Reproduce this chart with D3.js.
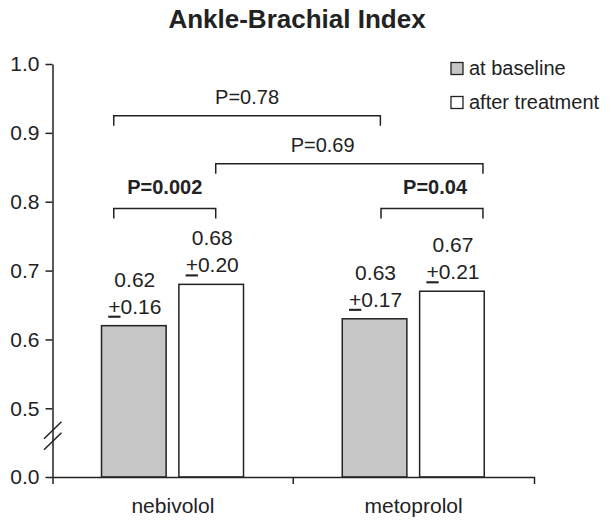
<!DOCTYPE html>
<html>
<head>
<meta charset="utf-8">
<script src="https://cdn.jsdelivr.net/npm/d3@7"></script>
<style>
  body { margin: 0; background: #fff; }
  text { font-family: "Liberation Sans", Arial, sans-serif; fill: #222; }
</style>
</head>
<body>
<div id="chart"></div>
<script>
var categories = ["nebivolol", "metoprolol"]
var series = ["at baseline", "after treatment"]
var baselineMean = [0.62, 0.63]
var baselineSD = [0.16, 0.17]
var afterMean = [0.68, 0.67]
var afterSD = [0.20, 0.21]
var yTicks = [0.0, 0.5, 0.6, 0.7, 0.8, 0.9, 1.0]

// comparisons: [category, series, position across bar] -> [...], level on y
var pLabels = ["P=0.78", "P=0.69", "P=0.002", "P=0.04"]
var pBold = [false, false, true, true]
var pFrom = [["nebivolol", "at baseline", 0.19], ["nebivolol", "after treatment", 0.57],
             ["nebivolol", "at baseline", 0.19], ["metoprolol", "at baseline", 0.6]]
var pTo = [["metoprolol", "at baseline", 0.59], ["metoprolol", "after treatment", 0.98],
           ["nebivolol", "after treatment", 0.57], ["metoprolol", "after treatment", 0.98]]
var pLevel = [0.925, 0.855, 0.79, 0.79]
var pTextAt = [0.5, 0.4, 0.5, 0.53]

var width = 611,
    height = 521,
    ink = "#222"

var svg = d3.select("#chart")
  .append("svg")
    .attr("width", width)
    .attr("height", height)

// broken axis: 0 .. 0.5 squeezed into one step
var y = d3.scaleLinear()
  .domain([0, 0.5, 1.0])
  .range([477, 408.3, 64])

var x = d3.scaleBand()
  .domain(categories)
  .range([52.5, 534])
  .padding(0)

var xs = d3.scaleBand()
  .domain(series)
  .range([49, 191])
  .paddingInner(0.165)

var color = d3.scaleOrdinal()
  .domain(series)
  .range(["#c6c6c6", "#ffffff"])

var rows = []
categories.forEach(function(c, i) {
  rows.push({cat: c, ser: series[0], value: baselineMean[i], sd: baselineSD[i]})
  rows.push({cat: c, ser: series[1], value: afterMean[i], sd: afterSD[i]})
})

svg.append("text")
  .attr("x", 297)
  .attr("y", 28)
  .attr("text-anchor", "middle")
  .style("font-size", "26px")
  .style("font-weight", "bold")
  .text("Ankle-Brachial Index")

// bars
svg.selectAll("bars")
  .data(rows)
  .enter()
  .append("rect")
    .attr("x", function(d) { return x(d.cat) + xs(d.ser) })
    .attr("y", function(d) { return y(d.value) })
    .attr("width", xs.bandwidth())
    .attr("height", function(d) { return y(0) - y(d.value) })
    .attr("fill", function(d) { return color(d.ser) })
    .attr("stroke", ink)
    .attr("stroke-width", 1.5)

// value labels
var lab = svg.selectAll("vals")
  .data(rows)
  .enter()
  .append("g")
    .attr("transform", function(d) {
      return "translate(" + (x(d.cat) + xs(d.ser) + xs.bandwidth() / 2 + 1) + "," + y(d.value) + ")"
    })
    .style("font-size", "21px")
    .attr("text-anchor", "middle")

lab.append("text")
  .attr("y", -39)
  .text(function(d) { return d3.format(".2f")(d.value) })

var sdText = lab.append("text")
  .attr("y", -12)
sdText.append("tspan")
  .style("text-decoration", "underline")
  .text("+")
sdText.append("tspan")
  .text(function(d) { return d3.format(".2f")(d.sd) })

// y axis
var yAxis = svg.append("g")
  .attr("transform", "translate(52.5,0)")
  .call(d3.axisLeft(y)
    .tickValues(yTicks)
    .tickFormat(d3.format(".1f"))
    .tickSize(7)
    .tickSizeOuter(0)
    .tickPadding(6))
yAxis.selectAll("text")
  .style("font-size", "21px")
  .attr("fill", ink)
yAxis.selectAll("line, path")
  .attr("stroke", ink)
  .attr("stroke-width", 1.5)

// x axis, ticks between groups
var xAxis = svg.append("g")
  .attr("transform", "translate(0," + y(0) + ")")
  .call(d3.axisBottom(x)
    .tickSize(0)
    .tickSizeOuter(7)
    .tickPadding(21))
xAxis.selectAll("text")
  .style("font-size", "21px")
  .attr("fill", ink)
xAxis.select(".domain")
  .attr("stroke", ink)
  .attr("stroke-width", 1.5)
xAxis.append("line")
  .attr("x1", x(categories[1]))
  .attr("x2", x(categories[1]))
  .attr("y1", 0)
  .attr("y2", 7)
  .attr("stroke", ink)
  .attr("stroke-width", 1.5)

// axis break marks
var yb = y(0.3)
svg.selectAll("breaks")
  .data([-5.5, 5.5])
  .enter()
  .append("line")
    .attr("x1", 44)
    .attr("x2", 61.5)
    .attr("y1", function(d) { return yb + d + 8.5 })
    .attr("y2", function(d) { return yb + d - 8.5 })
    .attr("stroke", ink)
    .attr("stroke-width", 1.5)

// comparison brackets
function px(p) { return x(p[0]) + xs(p[1]) + p[2] * xs.bandwidth() }

pLabels.forEach(function(t, i) {
  var x1 = px(pFrom[i]), x2 = px(pTo[i]), yl = y(pLevel[i])
  svg.append("path")
    .attr("d", d3.line()([[x1, yl + 10], [x1, yl], [x2, yl], [x2, yl + 10]]))
    .attr("fill", "none")
    .attr("stroke", ink)
    .attr("stroke-width", 1.5)
  svg.append("text")
    .attr("x", x1 + (x2 - x1) * pTextAt[i])
    .attr("y", yl - (pBold[i] ? 15 : 12))
    .attr("text-anchor", "middle")
    .style("font-size", "20px")
    .style("font-weight", pBold[i] ? "bold" : "normal")
    .text(t)
})

// legend
var legend = svg.selectAll("legend")
  .data(series)
  .enter()
  .append("g")
    .attr("transform", function(d, i) { return "translate(451," + (62.5 + i * 34) + ")" })

legend.append("rect")
  .attr("width", 12)
  .attr("height", 12)
  .attr("fill", function(d) { return color(d) })
  .attr("stroke", ink)
  .attr("stroke-width", 1.3)

legend.append("text")
  .attr("x", 18)
  .attr("y", 12)
  .style("font-size", "20px")
  .text(function(d) { return d })
</script>
</body>
</html>
